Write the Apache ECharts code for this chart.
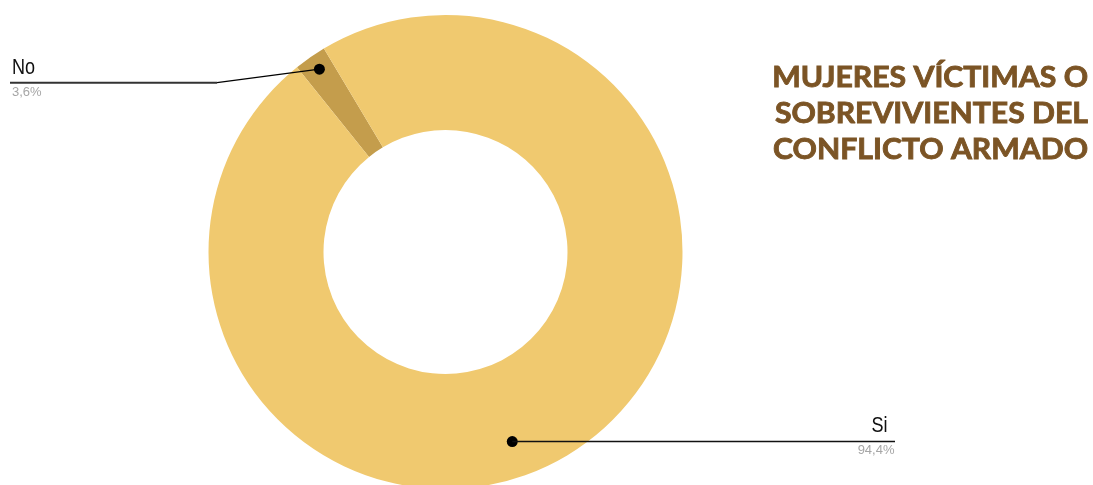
<!DOCTYPE html>
<html>
<head>
<meta charset="utf-8">
<script src="https://cdn.jsdelivr.net/npm/echarts@6/dist/echarts.min.js"></script>
<style>
html,body{margin:0;padding:0;background:#fff;}
#chart{width:1093px;height:485px;}
</style>
</head>
<body>
<div id="chart"></div>
<script>
// ---- data ----
const categories = ['No', 'Si'];
const sliceShare = [2.2, 97.8];          // slice sizes as drawn in the picture
const percentLabels = ['3,6%', '94,4%']; // percentages printed on the labels
const titleLines = ['MUJERES VÍCTIMAS O', 'SOBREVIVIENTES DEL', 'CONFLICTO ARMADO'];

// ---- style / layout ----
const colors = ['#C49D4C', '#F0C96F'];
const CENTER = [445.5, 252];
const R_OUT = 237, R_IN = 122;
// label anchor points (polar: radius fraction, angle clockwise from top)
const anchors = [[0.937, 325.4], [0.848, 160.6]];
const NAME_FONT = '22px "Liberation Sans", Arial, sans-serif';
const PCT_FONT = '13px "Liberation Sans", Arial, sans-serif';

const chart = echarts.init(document.getElementById('chart'), null, {renderer: 'canvas'});

const pieData = categories.map((c, i) => ({
  name: c, value: sliceShare[i], itemStyle: {color: colors[i]}
}));
const dotData = categories.map((c, i) => ({name: c, value: anchors[i]}));

chart.setOption({
  animation: false,
  backgroundColor: '#fff',
  polar: {center: CENTER, radius: R_OUT},
  angleAxis: {type: 'value', min: 0, max: 360, startAngle: 90, clockwise: true, show: false},
  radiusAxis: {type: 'value', min: 0, max: 1, show: false},
  series: [
    {
      type: 'pie',
      center: CENTER,
      radius: [R_IN, R_OUT],
      startAngle: 128.8,
      clockwise: true,
      silent: true,
      label: {show: false},
      labelLine: {show: false},
      data: pieData
    },
    {
      type: 'scatter',
      coordinateSystem: 'polar',
      symbol: 'circle',
      symbolSize: 11,
      itemStyle: {color: '#000', opacity: 1},
      silent: true,
      z: 5,
      data: dotData,
      label: {show: false}
    }
  ]
});

// label callouts anchored at the dots
const dots = anchors.map(a => chart.convertToPixel({polarIndex: 0}, a));
const g = [];
// "No" callout (left)
{
  const [dx, dy] = dots[0];
  const ly = 82.7;
  g.push({type: 'polyline', z: 10, silent: true,
    shape: {points: [[dx, dy], [217, ly]]},
    style: {stroke: '#000', lineWidth: 1.2, fill: null}});
  g.push({type: 'line', z: 10, silent: true,
    shape: {x1: 217, y1: ly, x2: 10, y2: ly},
    style: {stroke: '#333', lineWidth: 2}});
  g.push({type: 'text', z: 10, silent: true, x: 12, y: ly - 4, scaleX: 0.82,
    style: {text: categories[0], font: NAME_FONT, fill: '#111', align: 'left', verticalAlign: 'bottom'}});
  g.push({type: 'text', z: 10, silent: true, x: 12, y: ly + 3.5,
    style: {text: percentLabels[0], font: PCT_FONT, fill: '#a6a6a6', align: 'left', verticalAlign: 'top'}});
}
// "Si" callout (right)
{
  const [dx, dy] = dots[1];
  const ly = dy;
  g.push({type: 'line', z: 10, silent: true,
    shape: {x1: dx, y1: ly, x2: 895, y2: ly},
    style: {stroke: '#111', lineWidth: 1.5}});
  g.push({type: 'text', z: 10, silent: true, x: 887.5, y: ly - 4.5, scaleX: 0.82,
    style: {text: categories[1], font: NAME_FONT, fill: '#111', align: 'right', verticalAlign: 'bottom'}});
  g.push({type: 'text', z: 10, silent: true, x: 894.5, y: ly + 2.5,
    style: {text: percentLabels[1], font: PCT_FONT, fill: '#a6a6a6', align: 'right', verticalAlign: 'top'}});
}
// title
g.push({type: 'text', z: 10, silent: true, x: 1088, y: 60, scaleX: 1.04,
  style: {text: titleLines.join('\n'), font: 'bold 29px Lato, sans-serif', lineHeight: 36,
    fill: '#7B5425', stroke: '#7B5425', lineWidth: 0.9, align: 'right', verticalAlign: 'top'}});

chart.setOption({graphic: g});
</script>
</body>
</html>
